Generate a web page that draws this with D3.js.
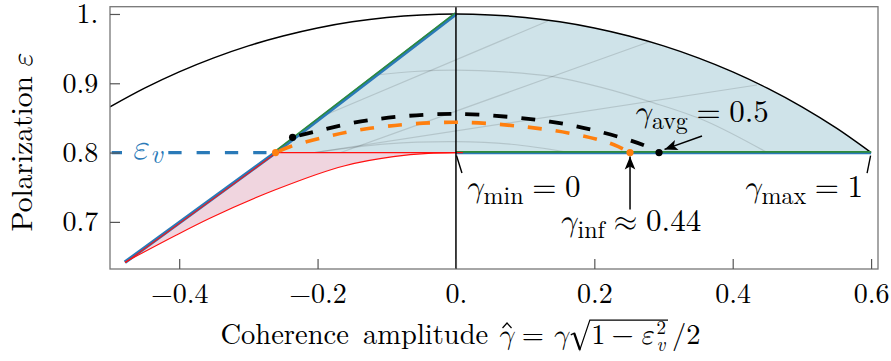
<!DOCTYPE html>
<html><head><meta charset="utf-8">
<script src="https://cdn.jsdelivr.net/npm/d3@7"></script>
<style>body{margin:0;background:#fff}svg{display:block}</style>
</head><body><svg id="c" width="891" height="361"></svg>
<script>
// ---------- data ----------
const xTicks = [-0.4, -0.2, 0, 0.2, 0.4, 0.6];
const xTickLabels = ["\u22120.4", "\u22120.2", "0.", "0.2", "0.4", "0.6"];
const yTicks = [0.7, 0.8, 0.9, 1.0];
const yTickLabels = ["0.7", "0.8", "0.9", "1."];
const epsV = 0.8;
const outerArc = [[-0.5,0.866],[-0.45,0.893],[-0.4,0.9165],[-0.35,0.9367],[-0.3,0.954],[-0.25,0.9682],[-0.2,0.9798],[-0.15,0.9887],[-0.1,0.995],[-0.05,0.9987],[0,1],[0.05,0.9987],[0.1,0.995],[0.15,0.9887],[0.2,0.9798],[0.25,0.9682],[0.3,0.954],[0.35,0.9367],[0.4,0.9165],[0.45,0.893],[0.5,0.866],[0.55,0.8352],[0.6,0.8]];
const physLine = [[-0.4785,0.6417],[-0.2607,0.8],[0,1]];
const lowerRed = [[-0.4785,0.6417],[-0.4039,0.6811],[-0.3557,0.7052],[-0.2592,0.747],[-0.1619,0.7807],[-0.0906,0.7941],[-0.04,0.7988],[0,0.8]];
const redTop = [[-0.2607,0.8],[0.01,0.8]];
const bottomEdge = [[0,0.8],[0.6,0.8]];
const evDashed = [[-0.5,0.8],[-0.2607,0.8]];
const blackDashed = [[-0.2361,0.822],[-0.2063,0.8297],[-0.1243,0.847],[0,0.8557],[0.1359,0.8446],[0.2082,0.830],[0.2708,0.811],[0.2935,0.8]];
const orangeDashed = [[-0.2607,0.8],[-0.24,0.8085],[-0.1966,0.8206],[-0.1243,0.835],[0,0.8437],[0.1359,0.8326],[0.2082,0.818],[0.2347,0.8086],[0.2516,0.8]];
const meshArcA = [[-0.115,0.912],[-0.06,0.917],[0,0.919],[0.07,0.9165],[0.14,0.9095],[0.21,0.894],[0.28,0.8735],[0.36,0.846],[0.45,0.8]];
const meshArcB = [[-0.2045,0.8],[-0.1,0.8125],[0,0.8157],[0.08,0.812],[0.165,0.8]];
const meshRay1 = [[-0.1923,0.8528],[0.133,0.9899]];
const meshRay2 = [[-0.1667,0.8],[0.2805,0.9603]];
const meshRay3 = [[-0.2045,0.8],[0.435,0.8975]];
const orangeDots = [[-0.2607,0.8],[0.2516,0.8]];
const blackDots = [[-0.2361,0.822],[0.2935,0.8]];
const gammaMinX = 0, gammaMaxX = 0.6;

const RM = "'Latin Modern Roman','Liberation Serif',serif";
const GR = "'Latin Modern Math','Latin Modern Roman','Liberation Serif',serif";
// ---------- setup ----------
const svg = d3.select("#c");
const L = 110, R = 878, T = 6.7, B = 269;
const x = d3.scaleLinear([-0.5, 0.61], [L, R]);
const y = d3.scaleLinear([0.632, 1.0105], [B, T]);
const line = d3.line(d => x(d[0]), d => y(d[1]));
const cr = d3.line(d => x(d[0]), d => y(d[1])).curve(d3.curveCatmullRom);
const mono = d3.line(d => x(d[0]), d => y(d[1])).curve(d3.curveMonotoneX);

const defs = svg.append("defs");
defs.append("clipPath").attr("id","plot").append("rect").attr("x",L).attr("y",T).attr("width",R-L).attr("height",B-T);
const g = svg.append("g").attr("clip-path","url(#plot)");

const arcRight = outerArc.filter(d => d[0] >= 0);
const bluePath = `M${x(physLine[1][0])},${y(physLine[1][1])}L` + cr(arcRight).slice(1) + "Z";
defs.append("clipPath").attr("id","blueclip").append("path").attr("d", bluePath);
g.append("path").attr("d", bluePath).attr("fill", "#cfe3e9");
const pinkPath = mono(lowerRed) + `L${x(physLine[1][0])},${y(physLine[1][1])}Z`;
g.append("path").attr("d", pinkPath).attr("fill", "#f0d5df");

const mesh = g.append("g").attr("clip-path","url(#blueclip)").attr("fill","none").attr("stroke","#000").attr("stroke-opacity",0.13).attr("stroke-width",1.2);
[meshArcA, meshArcB].forEach(a => mesh.append("path").attr("d", cr(a)));
[meshRay1, meshRay2, meshRay3].forEach(a => mesh.append("path").attr("d", line(a)));

g.append("path").attr("d", cr(outerArc)).attr("fill","none").attr("stroke","#000").attr("stroke-width",1.5);

g.append("path").attr("d", line(physLine)).attr("fill","none").attr("stroke","#2a7ab8").attr("stroke-width",3.6);
g.append("path").attr("d", line(bottomEdge)).attr("fill","none").attr("stroke","#2a7ab8").attr("stroke-width",3.4);
g.append("path").attr("d", line(physLine.slice(1))).attr("transform","translate(-0.9,-0.9)").attr("fill","none").attr("stroke","#2e8b3a").attr("stroke-width",1.4);
g.append("path").attr("d", line(bottomEdge)).attr("transform","translate(0,-0.8)").attr("fill","none").attr("stroke","#2e8b3a").attr("stroke-width",1.8);
g.append("path").attr("d", mono(lowerRed)).attr("fill","none").attr("stroke","#ff1010").attr("stroke-width",1.1);
g.append("path").attr("d", line(physLine.slice(0,2))).attr("transform","translate(0.6,0.3)").attr("fill","none").attr("stroke","#ff1010").attr("stroke-width",1.1);
g.append("path").attr("d", line(redTop)).attr("fill","none").attr("stroke","#ff1010").attr("stroke-width",1.1);

g.append("line").attr("x1",x(0)).attr("x2",x(0)).attr("y1",T).attr("y2",B).attr("stroke","#000").attr("stroke-width",1.5);

g.append("path").attr("d", cr(orangeDashed)).attr("fill","none").attr("stroke","#ff7f0e").attr("stroke-width",3.6).attr("stroke-dasharray","14,14").attr("stroke-dashoffset",24);
g.append("path").attr("d", cr(blackDashed)).attr("fill","none").attr("stroke","#000").attr("stroke-width",3.8).attr("stroke-dasharray","14,14").attr("stroke-dashoffset",21);
g.append("path").attr("d", line(evDashed)).attr("fill","none").attr("stroke","#2a7ab8").attr("stroke-width",3.4).attr("stroke-dasharray","13.3,15").attr("stroke-dashoffset",26.6);

// eps_v label
const yev = y(epsV);
svg.append("rect").attr("x",122).attr("y",yev-13).attr("width",46).attr("height",26).attr("fill","#fff");
const evt = svg.append("text").attr("x",131).attr("y",yev+6.5).attr("fill","#2a7ab8").style("font-family", GR);
evt.append("tspan").style("font-style","italic").style("font-size","36px").text("\u03b5");
evt.append("tspan").style("font-family", RM).style("font-style","italic").style("font-size","27px").attr("dy",4).attr("dx",0).text("v");

g.selectAll(".od").data(orangeDots).join("circle").attr("cx",d=>x(d[0])).attr("cy",d=>y(d[1])).attr("r",3.6).attr("fill","#ff7f0e");
g.selectAll(".bd").data(blackDots).join("circle").attr("cx",d=>x(d[0])).attr("cy",d=>y(d[1])).attr("r",3.6).attr("fill","#000");

// ---------- annotations ----------
function arrowHead(tip, from) {
  const a = Math.atan2(tip[1]-from[1], tip[0]-from[0]) * 180 / Math.PI;
  svg.append("path").attr("d","M0,0L-13,-5.3L-10,0L-13,5.3Z").attr("fill","#000")
     .attr("transform",`translate(${tip[0]},${tip[1]}) rotate(${a})`);
}
function arrow(from, tip) {
  svg.append("line").attr("x1",from[0]).attr("y1",from[1]).attr("x2",tip[0]).attr("y2",tip[1]).attr("stroke","#000").attr("stroke-width",1.5);
  arrowHead(tip, from);
}
function mathLabel(px, py, anchor, sub, rest) {
  const t = svg.append("text").attr("x",px).attr("y",py).attr("text-anchor",anchor).style("font-family",RM).style("font-size","31px");
  t.append("tspan").style("font-family",GR).style("font-style","italic").text("\u03b3");
  t.append("tspan").style("font-size","24px").attr("dy",7).attr("dx",0.5).text(sub);
  t.append("tspan").style("font-family",GR).attr("dy",-7).attr("dx",8.6).text(rest[0]);
  t.append("tspan").attr("dx",8.6).text(rest[1]);
  return t;
}
const y8 = y(epsV);
svg.append("line").attr("x1",x(gammaMinX)+0.5).attr("y1",y8+3).attr("x2",x(gammaMinX)+6).attr("y2",y8+20.5).attr("stroke","#000").attr("stroke-width",1.4);
mathLabel(x(gammaMinX)+9, y8+44, "start", "min", ["=", "0"]);
svg.append("line").attr("x1",x(gammaMaxX)-0.5).attr("y1",y8+3).attr("x2",x(gammaMaxX)-4).attr("y2",y8+20.5).attr("stroke","#000").attr("stroke-width",1.4);
mathLabel(x(gammaMaxX)-8, y8+44, "end", "max", ["=", "1"]);
const oi = [x(orangeDots[1][0]), y(orangeDots[1][1])];
arrow([oi[0], oi[1]+57], [oi[0], oi[1]+3.8]);
mathLabel(oi[0], oi[1]+78.5, "middle", "inf", ["\u2248", "0.44"]);
const ba = [x(blackDots[1][0]), y(blackDots[1][1])];
arrow([ba[0]+43, ba[1]-16.6], [ba[0]+5.5, ba[1]-3.2]);
mathLabel(ba[0]+42, ba[1]-31, "middle", "avg", ["=", "0.5"]);

// ---------- frame & axes ----------
svg.append("rect").attr("x",L).attr("y",T).attr("width",R-L).attr("height",B-T).attr("fill","none").attr("stroke","#777").attr("stroke-width",1.3);
const ax = svg.append("g").attr("transform",`translate(0,${B})`)
  .call(d3.axisBottom(x).tickValues(xTicks).tickFormat((d,i)=>xTickLabels[i]).tickSizeInner(-10).tickSizeOuter(0).tickPadding(14));
const ay = svg.append("g").attr("transform",`translate(${L},0)`)
  .call(d3.axisLeft(y).tickValues(yTicks).tickFormat((d,i)=>yTickLabels[i]).tickSizeInner(-10).tickSizeOuter(0).tickPadding(11.7));
[ax, ay].forEach(a => {
  a.select(".domain").remove();
  a.selectAll(".tick line").attr("stroke","#555").attr("stroke-width",1.2);
  a.selectAll(".tick text").attr("fill","#000").style("font-family",RM).style("font-size","28px");
});

// y label
const yl = svg.append("text").attr("transform","translate(32,142) rotate(-90)").attr("text-anchor","middle").style("font-family",RM).style("font-size","29.5px");
yl.append("tspan").text("Polarization");
yl.append("tspan").style("font-family",GR).style("font-style","italic").attr("dx",8).text("\u03b5");

// x label with radical
const xl = svg.append("g");
const S = 28.5, base = 344;
let cx = 0;
function run(t, opt={}) {
  const x0 = cx + (opt.dx||0);
  const el = xl.append("text").attr("x", x0).attr("y", base + (opt.shift||0))
    .style("font-family", opt.fam || RM).style("font-size", (opt.size || S) + "px").style("font-style", opt.italic ? "italic" : "normal").text(t);
  const w = el.node().getComputedTextLength();
  if (!opt.noAdvance) cx = x0 + w;
  return {el, x0, w};
}
function measure(t, fam, size, italic) {
  const tmp = xl.append("text").style("font-family", fam).style("font-size", size + "px").style("font-style", italic ? "italic" : "normal").text(t);
  const w = tmp.node().getComputedTextLength(); tmp.remove(); return w;
}
run("Coherence\u00a0amplitude");
const gh = run("\u03b3", {italic: true, fam: GR, dx: 9});
run("=", {dx: 8});
run("\u03b3", {italic: true, fam: GR, dx: 8});
const radStart = cx + 2;
cx += 2 + 0.72*S;
const rad1 = cx;
run("1");
run("\u2212", {dx: 6});
// epsilon with stacked sub/superscripts
const ex0 = cx + 6;
const wEps = measure("\u03b5", GR, S, true);
const w2 = measure("2", RM, 19, false);
const wv = measure("v", RM, 19, true);
const et = xl.append("text").attr("x", ex0).attr("y", base).style("font-family", GR).style("font-size", S+"px");
et.append("tspan").style("font-style","italic").text("\u03b5");
et.append("tspan").style("font-family", RM).style("font-size","19px").attr("dy",-10).attr("dx",1.5).text("2");
xl.append("text").attr("x", ex0 + wEps + 1.5).attr("y", base + 7).style("font-family", RM).style("font-size","19px").style("font-style","italic").text("v");
cx = ex0 + wEps + 1.5 + Math.max(w2, wv);
const radEnd = cx + 2;
const b = base;
xl.append("path").attr("fill","none").attr("stroke","#000").attr("stroke-width",1.2)
  .attr("d", `M${radStart},${b-0.32*S}L${radStart+0.12*S},${b-0.38*S}L${radStart+0.32*S},${b+0.2*S}L${rad1-0.05*S},${b-0.84*S}L${radEnd},${b-0.84*S}`);
xl.append("path").attr("fill","none").attr("stroke","#000").attr("stroke-width",2.3)
  .attr("d", `M${radStart+0.12*S},${b-0.38*S}L${radStart+0.32*S},${b+0.2*S}`);
const hc = gh.x0 + gh.w/2 + 1.5;
xl.append("path").attr("fill","none").attr("stroke","#000").attr("stroke-width",1.2)
  .attr("d", `M${hc-4.5},${b-16}L${hc},${b-21}L${hc+4.5},${b-16}`);
cx = radEnd + 4;
run("/2");
const total = cx;
xl.attr("transform", `translate(${460.5 - total/2},0)`);
</script></body></html>
